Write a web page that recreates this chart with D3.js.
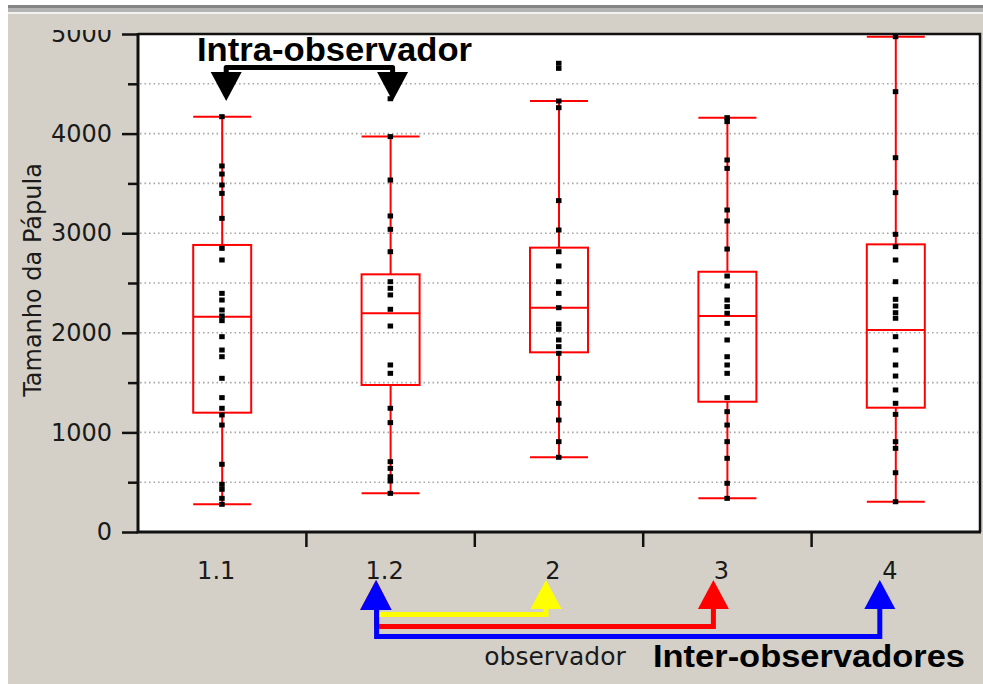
<!DOCTYPE html>
<html lang="pt">
<head>
<meta charset="UTF-8">
<title>Tamanho da Pápula por observador</title>
<script src="https://d3js.org/d3.v7.min.js"></script>
<style>
    body { margin: 0; background: #fff; }
    .tick text { font-family: "DejaVu Sans", sans-serif; font-size: 24px; fill: #1a1a1a; }
    .grid line { stroke: #a8a8a8; stroke-width: 1.6; stroke-dasharray: 1.6,2.9; }
    .box { fill: none; stroke: #ff0000; stroke-width: 2; }
    .whisker { stroke: #ff0000; stroke-width: 2; }
    .pt { fill: #000; }
    .note { font-family: "Liberation Sans", Arial, sans-serif; font-weight: bold; fill: #000; }
</style>
</head>
<body>
<svg width="983" height="684"></svg>
<script>
    // categories (observers) and box statistics
    const categories = ["1.1", "1.2", "2", "3", "4"];
    const whiskerLow = [278, 388, 750, 338, 304];
    const q1 = [1198, 1476, 1804, 1308, 1248];
    const medians = [2162, 2196, 2252, 2169, 2028];
    const q3 = [2882, 2587, 2855, 2613, 2888];
    const whiskerHigh = [4170, 3970, 4327, 4160, 4973];

    // individual measurements (black dots)
    const pts11 = [4170, 3675, 3594, 3484, 3400, 3149, 2848, 2731, 2396, 2329, 2229, 2169, 2122,
        1961, 1827, 1760, 1543, 1349, 1242, 1175, 1074, 680, 479, 429, 338, 278];
    const pts12 = [4350, 3970, 3534, 3173, 3039, 2814, 2513, 2447, 2380, 2236, 2068, 1677, 1593,
        1242, 1098, 706, 639, 555, 512, 388];
    const pts2 = [4706, 4655, 4327, 4260, 3327, 3032, 2814, 2671, 2513, 2396, 2252, 2088, 2035,
        1928, 1861, 1794, 1543, 1292, 1124, 907, 750];
    const pts3 = [4160, 4120, 3735, 3651, 3233, 3123, 2841, 2570, 2470, 2329, 2263, 2196, 2095,
        1928, 1760, 1677, 1593, 1349, 1208, 1074, 907, 740, 489, 338];
    const pts4 = [4973, 4421, 3758, 3407, 2989, 2865, 2731, 2513, 2336, 2269, 2202, 2146, 1961,
        1827, 1677, 1566, 1426, 1292, 1181, 907, 840, 595, 304];
    const pointSets = [pts11, pts12, pts2, pts3, pts4];

    const yMajor = [0, 1000, 2000, 3000, 4000, 5000];
    const yMinor = [500, 1500, 2500, 3500, 4500];
    const gridValues = [500, 1000, 1500, 2000, 2500, 3000, 3500, 4000, 4500];

    const svg = d3.select("svg");
    const W = 983, H = 684;
    const margin = { top: 34, right: 3, bottom: 152, left: 138 };
    const x0 = margin.left, x1 = W - margin.right;
    const y0 = H - margin.bottom, y1 = margin.top;

    const x = d3.scaleBand().domain(categories).range([x0, x1]).padding(0);
    const y = d3.scaleLinear().domain([0, 5000]).range([y0, y1]);
    const cx = c => x(c) + x.bandwidth() / 2;
    const boxW = 58;

    // window-like background
    svg.append("rect").attr("x", 8).attr("y", 5).attr("width", W - 8).attr("height", H - 5).attr("fill", "#d4d0c8");
    svg.append("rect").attr("x", 8).attr("y", 5).attr("width", W - 8).attr("height", 3).attr("fill", "#858585");
    svg.append("rect").attr("x", 8).attr("y", 8).attr("width", W - 8).attr("height", 4).attr("fill", "#b4b4b4");
    svg.append("rect").attr("x", 8).attr("y", 12).attr("width", W - 8).attr("height", 2).attr("fill", "#f2f2f2");

    // plot area
    svg.append("rect").attr("x", x0).attr("y", y1).attr("width", x1 - x0).attr("height", y0 - y1).attr("fill", "#fff");

    svg.append("g").attr("class", "grid")
        .selectAll("line").data(gridValues).join("line")
        .attr("x1", x0 + 2).attr("x2", x1 - 2)
        .attr("y1", d => y(d)).attr("y2", d => y(d));

    // y axis (top label is cut off at the panel edge, as in the original)
    svg.append("clipPath").attr("id", "yclip")
        .append("rect").attr("x", -x0).attr("y", 30).attr("width", x0 + 2).attr("height", H);

    const yAxis = svg.append("g")
        .attr("transform", `translate(${x0},0)`)
        .attr("clip-path", "url(#yclip)")
        .call(d3.axisLeft(y).tickValues(yMajor).tickFormat(d3.format("d")).tickSize(16).tickPadding(10));
    yAxis.select(".domain").remove();
    yAxis.selectAll(".tick line").attr("stroke", "#111").attr("stroke-width", 2.5);

    const yMinorAxis = svg.append("g")
        .attr("transform", `translate(${x0},0)`)
        .call(d3.axisLeft(y).tickValues(yMinor).tickSize(10).tickFormat(""));
    yMinorAxis.select(".domain").remove();
    yMinorAxis.selectAll(".tick line").attr("stroke", "#111").attr("stroke-width", 2.5);

    // x axis: labels at band centres, tick marks at band edges
    const xAxis = svg.append("g")
        .attr("transform", `translate(0,${y0})`)
        .call(d3.axisBottom(x).tickSize(0).tickPadding(30));
    xAxis.select(".domain").remove();
    xAxis.selectAll(".tick text").attr("dx", -6);

    svg.append("g").selectAll("line").data(categories.slice(1)).join("line")
        .attr("x1", d => x(d)).attr("x2", d => x(d))
        .attr("y1", y0).attr("y2", y0 + 15)
        .attr("stroke", "#111").attr("stroke-width", 2.5);

    // frame
    svg.append("path")
        .attr("d", `M${x0},${y1}H${x1}V${y0}`)
        .attr("fill", "none").attr("stroke", "#111").attr("stroke-width", 2.5);
    svg.append("path")
        .attr("d", `M${x0},${y1 - 1}V${y0}H${x1 + 1}`)
        .attr("fill", "none").attr("stroke", "#111").attr("stroke-width", 3);

    // box plots
    const stats = categories.map((c, i) => ({
        c, lo: whiskerLow[i], q1: q1[i], med: medians[i], q3: q3[i], hi: whiskerHigh[i], pts: pointSets[i]
    }));

    const g = svg.append("g");
    const grp = g.selectAll("g.cat").data(stats).join("g").attr("class", "cat");

    grp.append("line").attr("class", "whisker")
        .attr("x1", d => cx(d.c)).attr("x2", d => cx(d.c))
        .attr("y1", d => y(d.hi)).attr("y2", d => y(d.q3));
    grp.append("line").attr("class", "whisker")
        .attr("x1", d => cx(d.c)).attr("x2", d => cx(d.c))
        .attr("y1", d => y(d.q1)).attr("y2", d => y(d.lo));
    grp.append("line").attr("class", "whisker")
        .attr("x1", d => cx(d.c) - boxW / 2).attr("x2", d => cx(d.c) + boxW / 2)
        .attr("y1", d => y(d.hi)).attr("y2", d => y(d.hi));
    grp.append("line").attr("class", "whisker")
        .attr("x1", d => cx(d.c) - boxW / 2).attr("x2", d => cx(d.c) + boxW / 2)
        .attr("y1", d => y(d.lo)).attr("y2", d => y(d.lo));
    grp.append("rect").attr("class", "box")
        .attr("x", d => cx(d.c) - boxW / 2).attr("width", boxW)
        .attr("y", d => y(d.q3)).attr("height", d => y(d.q1) - y(d.q3));
    grp.append("line").attr("class", "whisker")
        .attr("x1", d => cx(d.c) - boxW / 2).attr("x2", d => cx(d.c) + boxW / 2)
        .attr("y1", d => y(d.med)).attr("y2", d => y(d.med));

    grp.selectAll("rect.pt").data(d => d.pts.map(v => ({ c: d.c, v }))).join("rect")
        .attr("class", "pt")
        .attr("x", d => cx(d.c) - 3).attr("y", d => y(d.v) - 2.5)
        .attr("width", 5.5).attr("height", 5);

    // axis titles
    svg.append("text")
        .attr("transform", "translate(41,280) rotate(-90)")
        .attr("text-anchor", "middle")
        .style("font-family", "DejaVu Sans, sans-serif").style("font-size", "24px").style("fill", "#1a1a1a")
        .text("Tamanho da Pápula");

    svg.append("text")
        .attr("x", (x0 + x1) / 2 - 4).attr("y", 665)
        .attr("text-anchor", "middle")
        .style("font-family", "DejaVu Sans, sans-serif").style("font-size", "25px").style("fill", "#1a1a1a")
        .text("observador");

    // intra-observer annotation
    const ax = [cx("1.1") + 4, cx("1.2") + 2];
    svg.append("path")
        .attr("d", `M${ax[0]},74V67.5H${ax[1]}V74`)
        .attr("fill", "none").attr("stroke", "#000").attr("stroke-width", 5).attr("stroke-linejoin", "round");
    ax.forEach(a => {
        svg.append("path").attr("d", `M${a - 15.5},72L${a + 15.5},72L${a},101Z`).attr("fill", "#000");
    });
    svg.append("text").attr("class", "note")
        .attr("x", 197).attr("y", 61)
        .attr("textLength", 275).attr("lengthAdjust", "spacingAndGlyphs")
        .style("font-size", "33px")
        .text("Intra-observador");

    // inter-observer annotation
    const base = cx("1.2") - 14;
    const arrows = [
        { to: cx("2") - 13, yl: 614.5, col: "#ffff00" },
        { to: cx("3") - 14, yl: 626.5, col: "#ff0000" },
        { to: cx("4") - 16, yl: 636.5, col: "#0000ff" }
    ];
    arrows.forEach(a => {
        svg.append("path")
            .attr("d", `M${base},608V${a.yl}H${a.to}V605`)
            .attr("fill", "none").attr("stroke", a.col).attr("stroke-width", 5)
            .attr("stroke-linejoin", "miter");
    });
    arrows.forEach(a => {
        svg.append("path").attr("d", `M${a.to - 15.5},609L${a.to + 15.5},609L${a.to},580Z`).attr("fill", a.col);
        svg.append("path").attr("d", `M${base - 16.5},610L${base + 15},610L${base - 0.5},580Z`).attr("fill", a.col);
    });

    svg.append("text").attr("class", "note")
        .attr("x", 653).attr("y", 667)
        .attr("textLength", 312).attr("lengthAdjust", "spacingAndGlyphs")
        .style("font-size", "31px")
        .text("Inter-observadores");
</script>
</body>
</html>
